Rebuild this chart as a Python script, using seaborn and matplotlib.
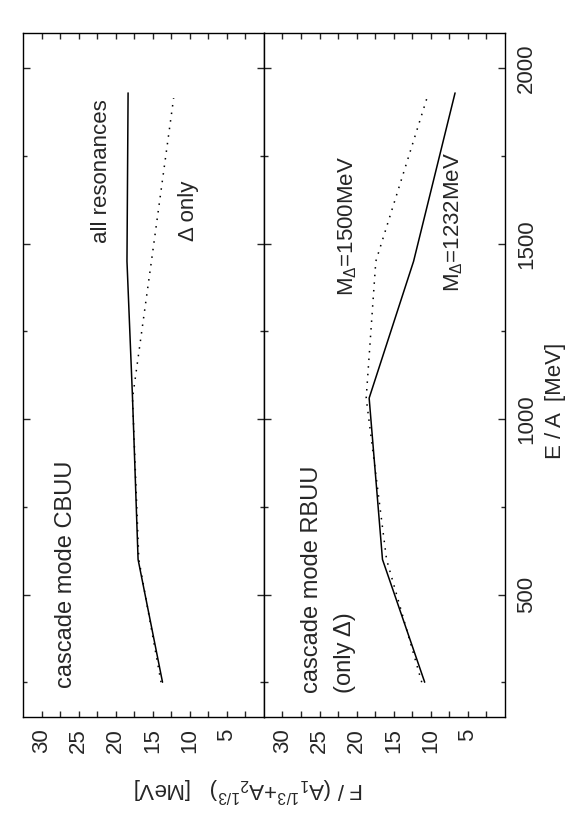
import matplotlib
matplotlib.use("agg")
import matplotlib.pyplot as plt
import seaborn as sns

# energies per nucleon [MeV]
e_solid = [250, 600, 1060, 1450, 1930]
e_dotted = [250, 600, 1060, 1450, 1915]

# cascade mode CBUU
cbuu_all = [13.7, 17.0, 17.75, 18.5, 18.35]     # all resonances
cbuu_delta = [13.9, 16.9, 17.75, 15.2, 12.2]    # delta only

# cascade mode RBUU (only delta)
rbuu_1232 = [10.8, 16.5, 18.3, 12.3, 6.7]       # M_delta = 1232 MeV
rbuu_1500 = [11.2, 15.95, 18.7, 17.4, 10.5]     # M_delta = 1500 MeV

f_ticks = [30, 25, 20, 15, 10, 5]
f_minor = [27.5, 22.5, 17.5, 12.5, 7.5, 2.5]
e_ticks = [500, 1000, 1500, 2000]
e_minor = [250, 750, 1250, 1750]

sns.set_style("ticks")
plt.rcParams["font.family"] = ["Liberation Sans", "DejaVu Sans"]
plt.rcParams["mathtext.fontset"] = "custom"
plt.rcParams["mathtext.rm"] = "Liberation Sans"
plt.rcParams["mathtext.it"] = "Liberation Sans"
FS = 16

fig, axes = plt.subplots(1, 2, figsize=(5.75, 8.24), dpi=100, sharey=True)
fig.subplots_adjust(left=0.0405, right=0.8777, bottom=0.1295, top=0.9596, wspace=0)

panels = [(cbuu_all, cbuu_delta), (rbuu_1232, rbuu_1500)]
for i, (ax, (solid, dotted)) in enumerate(zip(axes, panels)):
    sns.lineplot(x=solid, y=e_solid, sort=False, estimator=None, ax=ax,
                 color="black", linewidth=1.1)
    sns.lineplot(x=dotted, y=e_dotted, sort=False, estimator=None, ax=ax,
                 color="black", linewidth=1.1, linestyle=(0, (1, 4)))
    ax.set_xlim(32.5, 0)
    ax.set_ylim(150, 2100)
    ax.set_xticks(f_ticks)
    ax.set_xticks(f_minor, minor=True)
    ax.set_yticks(e_ticks)
    ax.set_yticks(e_minor, minor=True)
    ax.tick_params(axis="x", which="both", direction="in", top=True, bottom=True,
                   length=4.3, width=1, labelsize=FS, pad=8, labelrotation=90)
    ax.tick_params(axis="y", which="major", length=5, width=1)
    ax.tick_params(axis="y", which="minor", length=2.9, width=1)
    ax.tick_params(axis="y", which="both", direction="in", left=True, right=True,
                   labelleft=False, labelright=(i == 1), labelsize=FS, pad=8,
                   labelrotation=90)
    for s in ax.spines.values():
        s.set_visible(True)
        s.set_linewidth(1.0)
        s.set_color("black")
    ax.set_xlabel("")
    ax.set_ylabel("")

for lab in axes[1].get_yticklabels():
    lab.set_verticalalignment("center")

a0, a1 = axes
a0.text(21.9, 1707, "all resonances", rotation=90, ha="center", va="center", fontsize=FS)
a0.text(10.2, 1593, "Δ only", rotation=90, ha="center", va="center", fontsize=FS)
a0.text(26.7, 233, "cascade mode CBUU", rotation=90, ha="center", va="bottom", fontsize=17)
a1.text(26.0, 219, "cascade mode RBUU", rotation=90, ha="center", va="bottom", fontsize=17)
a1.text(21.6, 219, "(only Δ)", rotation=90, ha="center", va="bottom", fontsize=17)
a1.text(21.2, 1550, r"M$_{\Delta}$=1500MeV", rotation=90, ha="center", va="center", fontsize=FS)
a1.text(6.9, 1563, r"M$_{\Delta}$=1232MeV", rotation=90, ha="center", va="center", fontsize=FS)

fig.text(556 / 575, 1 - 401 / 824, "E / A  [MeV]", rotation=90,
         ha="center", va="center", fontsize=FS)
fig.text(249 / 575, 1 - 789 / 824, r"F / (A$_1{}^{1/3}$+A$_2{}^{1/3}$)   [MeV]",
         rotation=180, ha="center", va="center", fontsize=FS)

fig.savefig("out.png", dpi=100)
